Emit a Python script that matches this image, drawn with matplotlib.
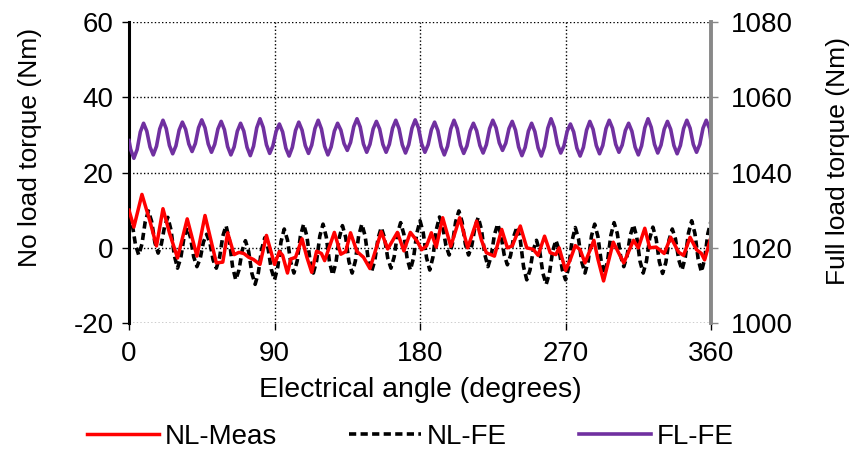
import numpy as np
import matplotlib
matplotlib.use('Agg')
import matplotlib.pyplot as plt

plt.rcParams['font.family'] = ['Liberation Sans', 'DejaVu Sans']
plt.rcParams['font.size'] = 20
plt.rcParams['axes.unicode_minus'] = False

# NL-Meas: measured no-load torque (deg, Nm), read at its turning points
meas_deg = [0, 3, 8, 13, 17, 21, 25, 30, 36, 42, 47, 54, 58, 61, 65, 68, 71, 74, 77, 81,
            85, 90, 93, 95, 98, 100, 103, 107, 110, 113, 116, 119, 121, 127, 131, 134, 137,
            141, 145, 149, 156, 160, 166, 170, 174, 178, 181, 184, 187, 190, 194, 199,
            204.5, 209.5, 215, 218, 221, 226, 230.5, 234, 237, 242, 246, 250, 253, 257,
            260.5, 264, 266, 270, 273, 276, 279, 282, 287.5, 290, 293.5, 299.5, 303, 306,
            309, 312, 315, 319, 322, 326, 331, 335, 340, 343, 347, 351, 354, 356, 360]
meas_nm = [10.0, 5.5, 14.2, 7.0, 0.5, 10.4, 4.0, -2.7, 7.7, -2.2, 8.6, -4.0, -3.8, 4.0, -1.8,
           -1.2, -1.5, -2.5, -3.1, -4.4, 3.3, -4.4, -1.0, -2.0, -6.7, -3.0, -2.5, 2.4, -2.5,
           -6.5, -0.9, -1.5, -3.4, 4.1, -1.7, -1.0, 4.0, -1.0, -2.5, -5.5, 4.3, -0.3, 4.1,
           -0.8, 4.1, 1.9, -0.5, 0.5, 4.0, 0.2, 8.0, 0.4, 8.0, 0.0, 7.1, 2.0, -1.3, -2.2,
           4.9, 0.0, 0.5, 5.8, 0.0, -0.4, -2.0, 3.1, -1.3, -1.8, 0.0, -6.0, -3.0, 0.6, -0.5,
           -4.0, 2.0, -3.0, -8.8, 1.5, -1.5, -4.0, -1.0, 2.0, 0.0, 5.2, 0.0, 0.2, -1.5, 2.8,
           -1.2, -2.0, 2.8, -0.5, -1.5, -3.2, 3.0]

# NL-FE: finite element no-load torque, sampled every 2 degrees
fe_deg = np.arange(0, 361, 2)
fe_nm = [9.0, 6.3, 0.8, -1.9, 1.0, 6.9,
         9.8, 7.0, 1.4, -1.4, 1.0, 5.7,
         8.1, 4.7, -2.0, -5.4, -2.7, 2.7,
         5.4, 2.8, -2.4, -5.0, -2.9, 1.5,
         3.6, 1.4, -3.2, -5.4, -2.6, 3.1,
         5.9, 2.3, -4.9, -8.5, -5.9, -0.7,
         1.9, -1.0, -6.8, -9.7, -6.6, -0.4,
         2.7, -0.1, -5.7, -8.5, -5.1, 1.6,
         5.0, 2.1, -3.8, -6.7, -3.5, 3.1,
         6.3, 3.1, -3.5, -6.7, -3.5, 3.1,
         6.3, 2.9, -3.8, -7.2, -3.9, 2.6,
         5.9, 2.8, -3.6, -6.7, -3.5, 3.1,
         6.3, 3.2, -3.2, -6.3, -3.4, 2.5,
         5.4, 2.7, -2.7, -5.4, -2.4, 3.7,
         6.7, 3.6, -2.8, -5.9, -2.6, 3.9,
         7.2, 3.9, -2.6, -5.9, -2.4, 4.7,
         8.2, 5.7, 0.6, -1.9, 1.0, 6.9,
         9.8, 6.9, 1.0, -1.9, 0.6, 5.6,
         8.1, 4.8, -1.7, -5.0, -2.2, 3.5,
         6.3, 3.6, -1.8, -4.5, -2.0, 3.1,
         5.6, 2.1, -5.0, -8.5, -5.9, -0.6,
         2.0, -0.9, -6.8, -9.7, -6.8, -0.9,
         2.0, -0.6, -5.9, -8.5, -5.0, 1.9,
         5.4, 2.4, -3.7, -6.7, -3.5, 3.1,
         6.3, 3.0, -3.5, -6.8, -3.4, 3.3,
         6.7, 3.8, -2.1, -5.0, -2.2, 3.3,
         6.1, 2.9, -3.5, -6.7, -3.6, 2.5,
         5.5, 2.4, -3.7, -6.8, -3.9, 2.1,
         5.0, 2.3, -3.2, -5.9, -2.6, 3.9,
         7.2, 3.8, -3.0, -6.4, -3.0, 3.8,
         7.2]

# FL-FE: finite element full-load torque, 0, 1, 3, 5, ..., 359, 360 degrees
fl_deg = np.concatenate(([0], np.arange(1, 360, 2), [360]))
fl_nm = [1048.5, 1046.2,
         1043.8, 1046.1, 1050.8, 1053.1, 1051.0, 1046.8,
         1044.7, 1047.0, 1051.6, 1053.9, 1051.7, 1047.2,
         1045.0, 1047.1, 1051.3, 1053.4, 1051.5, 1047.6,
         1045.6, 1047.7, 1051.9, 1054.0, 1051.9, 1047.6,
         1045.4, 1047.5, 1051.6, 1053.6, 1051.4, 1046.9,
         1044.7, 1046.8, 1051.0, 1053.1, 1051.0, 1046.7,
         1044.5, 1047.0, 1051.9, 1054.3, 1052.0, 1047.4,
         1045.1, 1047.1, 1051.0, 1052.9, 1050.8, 1046.5,
         1044.4, 1046.7, 1051.2, 1053.4, 1051.3, 1047.2,
         1045.1, 1047.3, 1051.7, 1053.9, 1051.6, 1047.0,
         1044.7, 1046.8, 1051.0, 1053.1, 1051.3, 1047.7,
         1045.9, 1048.0, 1052.2, 1054.3, 1052.1, 1047.6,
         1045.4, 1047.5, 1051.6, 1053.6, 1051.6, 1047.5,
         1045.4, 1047.5, 1051.8, 1053.9, 1051.7, 1047.4,
         1045.2, 1047.4, 1051.8, 1054.0, 1051.9, 1047.6,
         1045.4, 1047.4, 1051.4, 1053.4, 1051.2, 1046.9,
         1044.7, 1047.0, 1051.6, 1053.9, 1051.7, 1047.3,
         1045.1, 1047.1, 1051.1, 1053.1, 1051.1, 1047.2,
         1045.2, 1047.4, 1051.7, 1053.9, 1051.9, 1047.9,
         1045.9, 1047.8, 1051.7, 1053.6, 1051.3, 1046.8,
         1044.5, 1046.7, 1051.0, 1053.1, 1050.9, 1046.6,
         1044.4, 1046.9, 1051.8, 1054.3, 1052.0, 1047.5,
         1045.2, 1047.1, 1051.0, 1052.9, 1050.8, 1046.5,
         1044.4, 1046.7, 1051.3, 1053.6, 1051.5, 1047.2,
         1045.0, 1047.2, 1051.7, 1053.9, 1051.8, 1047.5,
         1045.4, 1047.3, 1051.2, 1053.1, 1051.0, 1046.8,
         1044.7, 1047.1, 1051.9, 1054.3, 1052.0, 1047.5,
         1045.2, 1047.3, 1051.5, 1053.6, 1051.5, 1047.2,
         1045.0, 1047.2, 1051.7, 1053.9, 1051.8, 1047.5,
         1045.4, 1047.5, 1051.8, 1053.9, 1051.7,
         1048.0]

x_ticks = [0, 90, 180, 270, 360]
left_ticks = [-20, 0, 20, 40, 60]
right_ticks = [1000, 1020, 1040, 1060, 1080]

fig = plt.figure(figsize=(8.51, 4.5), dpi=100)
ax = fig.add_axes([0.1516, 0.282, 0.684, 0.669])
ax2 = ax.twinx()

dot = (0, (1, 1.6))
ax.grid(True, color='black', linestyle=dot, linewidth=1)

l1, = ax.plot(meas_deg, meas_nm, color='#ff0000', linewidth=2.5, label='NL-Meas', zorder=4)
l2, = ax.plot(fe_deg, fe_nm, color='black', linewidth=2.6, linestyle=(0, (2.0, 1.2)),
              label='NL-FE', zorder=3)
l3, = ax2.plot(fl_deg, fl_nm, color='#7030a0', linewidth=2.6, label='FL-FE')

ax.set_xlim(0, 360)
ax.set_ylim(-20, 60)
ax2.set_ylim(1000, 1080)
ax.set_xticks(x_ticks)
ax.set_yticks(left_ticks)
ax2.set_yticks(right_ticks)

for s in ['top', 'bottom', 'right']:
    ax.spines[s].set_visible(False)
ax.spines['left'].set_linewidth(2.2)
for s in ['top', 'bottom', 'left']:
    ax2.spines[s].set_visible(False)
ax2.spines['right'].set_color('#888888')
ax2.spines['right'].set_linewidth(2.8)

ax.tick_params(axis='both', length=5, width=1, pad=6)
ax.tick_params(axis='x', pad=8)
ax2.tick_params(axis='y', length=5, width=1, color='#888888', pad=9)

ax.set_xlabel('Electrical angle (degrees)', fontsize=20.5, labelpad=7)
ax.set_ylabel('No load torque (Nm)', fontsize=19)
ax2.set_ylabel('Full load torque (Nm)', fontsize=19)
ax.yaxis.set_label_coords(-0.149, 0.585)
ax2.yaxis.set_label_coords(1.1976, 0.54)

fig.legend(handles=[l1, l2, l3], loc='lower center', bbox_to_anchor=(0.482, -0.055), ncol=3,
           frameon=False, fontsize=20, handlelength=2.6, columnspacing=2.6, handletextpad=0.2)

fig.savefig('out.png', dpi=100)
